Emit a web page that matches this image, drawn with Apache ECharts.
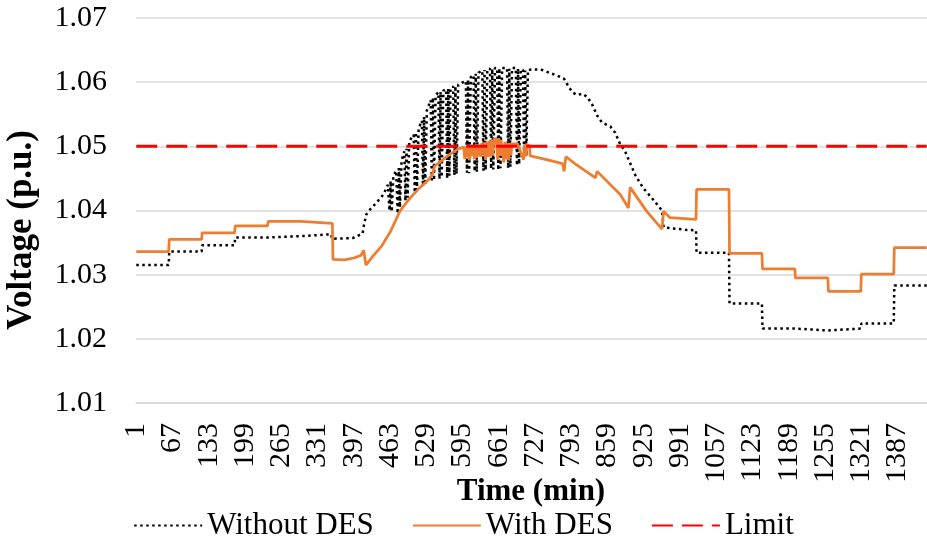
<!DOCTYPE html>
<html>
<head>
<meta charset="utf-8">
<script src="https://cdn.jsdelivr.net/npm/echarts@6/dist/echarts.min.js"></script>
<style>
  html, body { margin: 0; padding: 0; background: #fff; }
  #chart { width: 927px; height: 542px; }
</style>
</head>
<body>
<div id="chart"></div>
<script>
// Feeder voltage over one day, minute resolution (1..1440)
var minuteCount = 1440;
var yTicks = [1.01, 1.02, 1.03, 1.04, 1.05, 1.06, 1.07];
var limitValue = 1.05;

// [minute, voltage p.u.] breakpoints of the profile without storage
var withoutDes = [
  [1,1.0315],[60,1.0315],[61,1.0336],[120,1.0336],[121,1.0346],[180,1.0346],
  [181,1.0358],[240,1.0358],[241,1.0360],[300,1.0360],[301,1.0363],[356,1.0363],
  [357,1.0356],[395,1.0357],[405,1.0361],[413,1.0364],[416,1.0380],[420,1.0394],
  [426,1.0401],[438,1.0412],[451,1.0425],
  [459,1.0440],[462,1.0400],[464,1.0446],[466,1.0398],[469,1.0454],
  [474,1.0462],[477,1.0395],[479,1.0466],[481,1.0405],[484,1.0478],
  [489,1.0492],[491,1.0415],[493,1.0496],[495,1.0420],[498,1.0508],
  [506,1.0518],[508,1.0428],[510,1.0522],[512,1.0432],[515,1.0528],
  [521,1.0540],[523,1.0438],[525,1.0546],[527,1.0440],[530,1.0556],
  [537,1.0572],[539,1.0444],[541,1.0576],[543,1.0447],[546,1.0580],
  [551,1.0584],[553,1.0449],[555,1.0585],[557,1.0452],[560,1.0587],
  [565,1.0589],[567,1.0450],[569,1.0590],[571,1.0454],[573,1.0591],
  [578,1.0593],[580,1.0455],[582,1.0594],[584,1.0457],[587,1.0596],
  [601,1.0602],[603,1.0459],[605,1.0604],[607,1.0458],[610,1.0608],
  [615,1.0611],[617,1.0461],[619,1.0613],[621,1.0460],[624,1.0615],
  [631,1.0618],[633,1.0462],[635,1.0619],[637,1.0463],[640,1.0620],
  [645,1.0621],[647,1.0465],[649,1.0621],[651,1.0464],[654,1.0622],
  [658,1.0622],[660,1.0463],[662,1.0622],[664,1.0466],[667,1.0622],
  [676,1.0622],[678,1.0466],[680,1.0621],[682,1.0468],[685,1.0622],
  [692,1.0622],[694,1.0470],[696,1.0621],[698,1.0472],[701,1.0620],
  [705,1.0619],[707,1.0482],[709,1.0618],[711,1.0485],[714,1.0619],
  [725,1.0620],[740,1.0619],[755,1.0614],[768,1.0610],[780,1.0605],[786,1.0596],
  [795,1.0584],[804,1.0580],[813,1.0582],[822,1.0577],[831,1.0565],[840,1.0548],
  [849,1.0537],[864,1.0531],[873,1.0521],[882,1.0503],[891,1.0492],[900,1.0474],
  [909,1.0456],[918,1.0443],[924,1.0435],[942,1.0417],[958,1.0400],[961,1.0374],
  [978,1.0372],[1000,1.0370],[1020,1.0369],[1021,1.0334],[1080,1.0334],
  [1081,1.0255],[1140,1.0255],[1141,1.0216],[1200,1.0216],[1201,1.0213],
  [1260,1.0213],[1261,1.0216],[1320,1.0216],[1321,1.0224],[1380,1.0224],
  [1381,1.0283],[1440,1.0283]
];

// [minute, voltage p.u.] breakpoints of the profile with storage
var withDes = [
  [1,1.0336],[60,1.0336],[61,1.0355],[120,1.0355],[121,1.0365],[180,1.0365],
  [181,1.0376],[240,1.0376],[241,1.0383],[300,1.0383],[301,1.0380],[358,1.0380],
  [359,1.0324],[380,1.0323],[397,1.0326],[410,1.0330],[415,1.0338],[419,1.0315],
  [433,1.0330],[448,1.0345],[463,1.0366],[481,1.0399],[496,1.0416],[514,1.0433],
  [532,1.0447],[540,1.0456],[544,1.0469],[556,1.0477],[571,1.0487],[585,1.0495],
  [597,1.0499],
  [599,1.0480],[601,1.0500],[603,1.0483],[605,1.0500],
  [608,1.0478],[610,1.0501],[612,1.0485],[614,1.0502],
  [617,1.0480],[619,1.0503],[621,1.0482],[623,1.0503],
  [628,1.0484],[630,1.0505],[632,1.0487],[634,1.0506],
  [637,1.0479],[639,1.0507],[641,1.0483],[643,1.0508],
  [646,1.0484],[648,1.0510],[650,1.0486],[652,1.0511],
  [656,1.0512],[659,1.0479],[661,1.0513],[663,1.0485],[665,1.0510],
  [670,1.0475],[672,1.0507],[674,1.0480],[676,1.0505],
  [679,1.0478],[681,1.0505],[683,1.0486],[685,1.0504],
  [695,1.0504],[706,1.0479],[708,1.0503],[710,1.0484],[712,1.0503],
  [717,1.0501],[718,1.0485],[744,1.0480],[777,1.0473],[780,1.0461],[783,1.0484],
  [798,1.0474],[837,1.0451],[840,1.0461],[882,1.0425],[897,1.0404],[900,1.0436],
  [930,1.0399],[958,1.0371],[961,1.0399],[972,1.0389],[1020,1.0386],
  [1021,1.0433],[1080,1.0433],[1081,1.0333],[1140,1.0333],[1141,1.0309],
  [1200,1.0309],[1201,1.0295],[1260,1.0295],[1261,1.0274],[1320,1.0274],
  [1321,1.0301],[1380,1.0301],[1381,1.0342],[1440,1.0342]
];

// Minute labels along the time axis
var minutes = [];
for (var i = 1; i <= minuteCount; i++) minutes.push(String(i));

// Category axis takes the zero-based index of each minute
function toIndexed(points) {
  return points.map(function (p) { return [p[0] - 1, p[1]]; });
}

var font = 'Liberation Serif';
var chart = echarts.init(document.getElementById('chart'), null, { renderer: 'canvas' });

chart.setOption({
  animation: false,
  backgroundColor: '#ffffff',
  grid: { left: 136, top: 18, width: 802, height: 385, containLabel: false },
  xAxis: {
    type: 'category',
    data: minutes,
    boundaryGap: true,
    axisLine: { show: true, lineStyle: { color: '#d9d9d9', width: 1.5 } },
    axisTick: { show: false },
    axisLabel: {
      interval: 65,
      rotate: 90,
      margin: 20,
      fontFamily: font,
      fontSize: 30,
      color: '#000'
    },
    splitLine: { show: false }
  },
  yAxis: {
    type: 'value',
    min: yTicks[0],
    max: yTicks[yTicks.length - 1],
    interval: 0.01,
    axisLine: { show: false },
    axisTick: { show: false },
    axisLabel: {
      margin: 29,
      fontFamily: font,
      fontSize: 30,
      color: '#000',
      formatter: function (v) { return v.toFixed(2); }
    },
    splitLine: { show: true, lineStyle: { color: '#d9d9d9', width: 1.5 } }
  },
  legend: {
    left: 'center',
    top: 505,
    itemWidth: 68,
    itemHeight: 14,
    itemGap: 38,
    itemStyle: { opacity: 0 },
    textStyle: { fontFamily: font, fontSize: 31, color: '#000' },
    data: ['Without DES', 'With DES', 'Limit']
  },
  graphic: [
    {
      type: 'text',
      x: 22, y: 230,
      rotation: Math.PI / 2,
      style: {
        text: 'Voltage (p.u.)',
        fontFamily: font, fontSize: 35, fontWeight: 'bold', fill: '#000',
        align: 'center', verticalAlign: 'middle'
      }
    },
    {
      type: 'text',
      x: 531, y: 492,
      style: {
        text: 'Time (min)',
        fontFamily: font, fontSize: 31, fontWeight: 'bold', fill: '#000',
        align: 'center', verticalAlign: 'middle'
      }
    }
  ],
  series: [
    {
      name: 'Without DES',
      type: 'line',
      data: toIndexed(withoutDes),
      symbol: 'none',
      lineStyle: { color: '#000', width: 2.5, type: [2.5, 3.5] },
      itemStyle: { color: '#000' }
    },
    {
      name: 'With DES',
      type: 'line',
      data: toIndexed(withDes),
      symbol: 'none',
      lineStyle: { color: '#ED7D31', width: 2.75 },
      itemStyle: { color: '#ED7D31' }
    },
    {
      name: 'Limit',
      type: 'line',
      data: [[0, limitValue], [minuteCount - 1, limitValue]],
      symbol: 'none',
      lineStyle: { color: '#FF0000', width: 3, type: [21, 9] },
      itemStyle: { color: '#FF0000' }
    }
  ]
});
</script>
</body>
</html>
